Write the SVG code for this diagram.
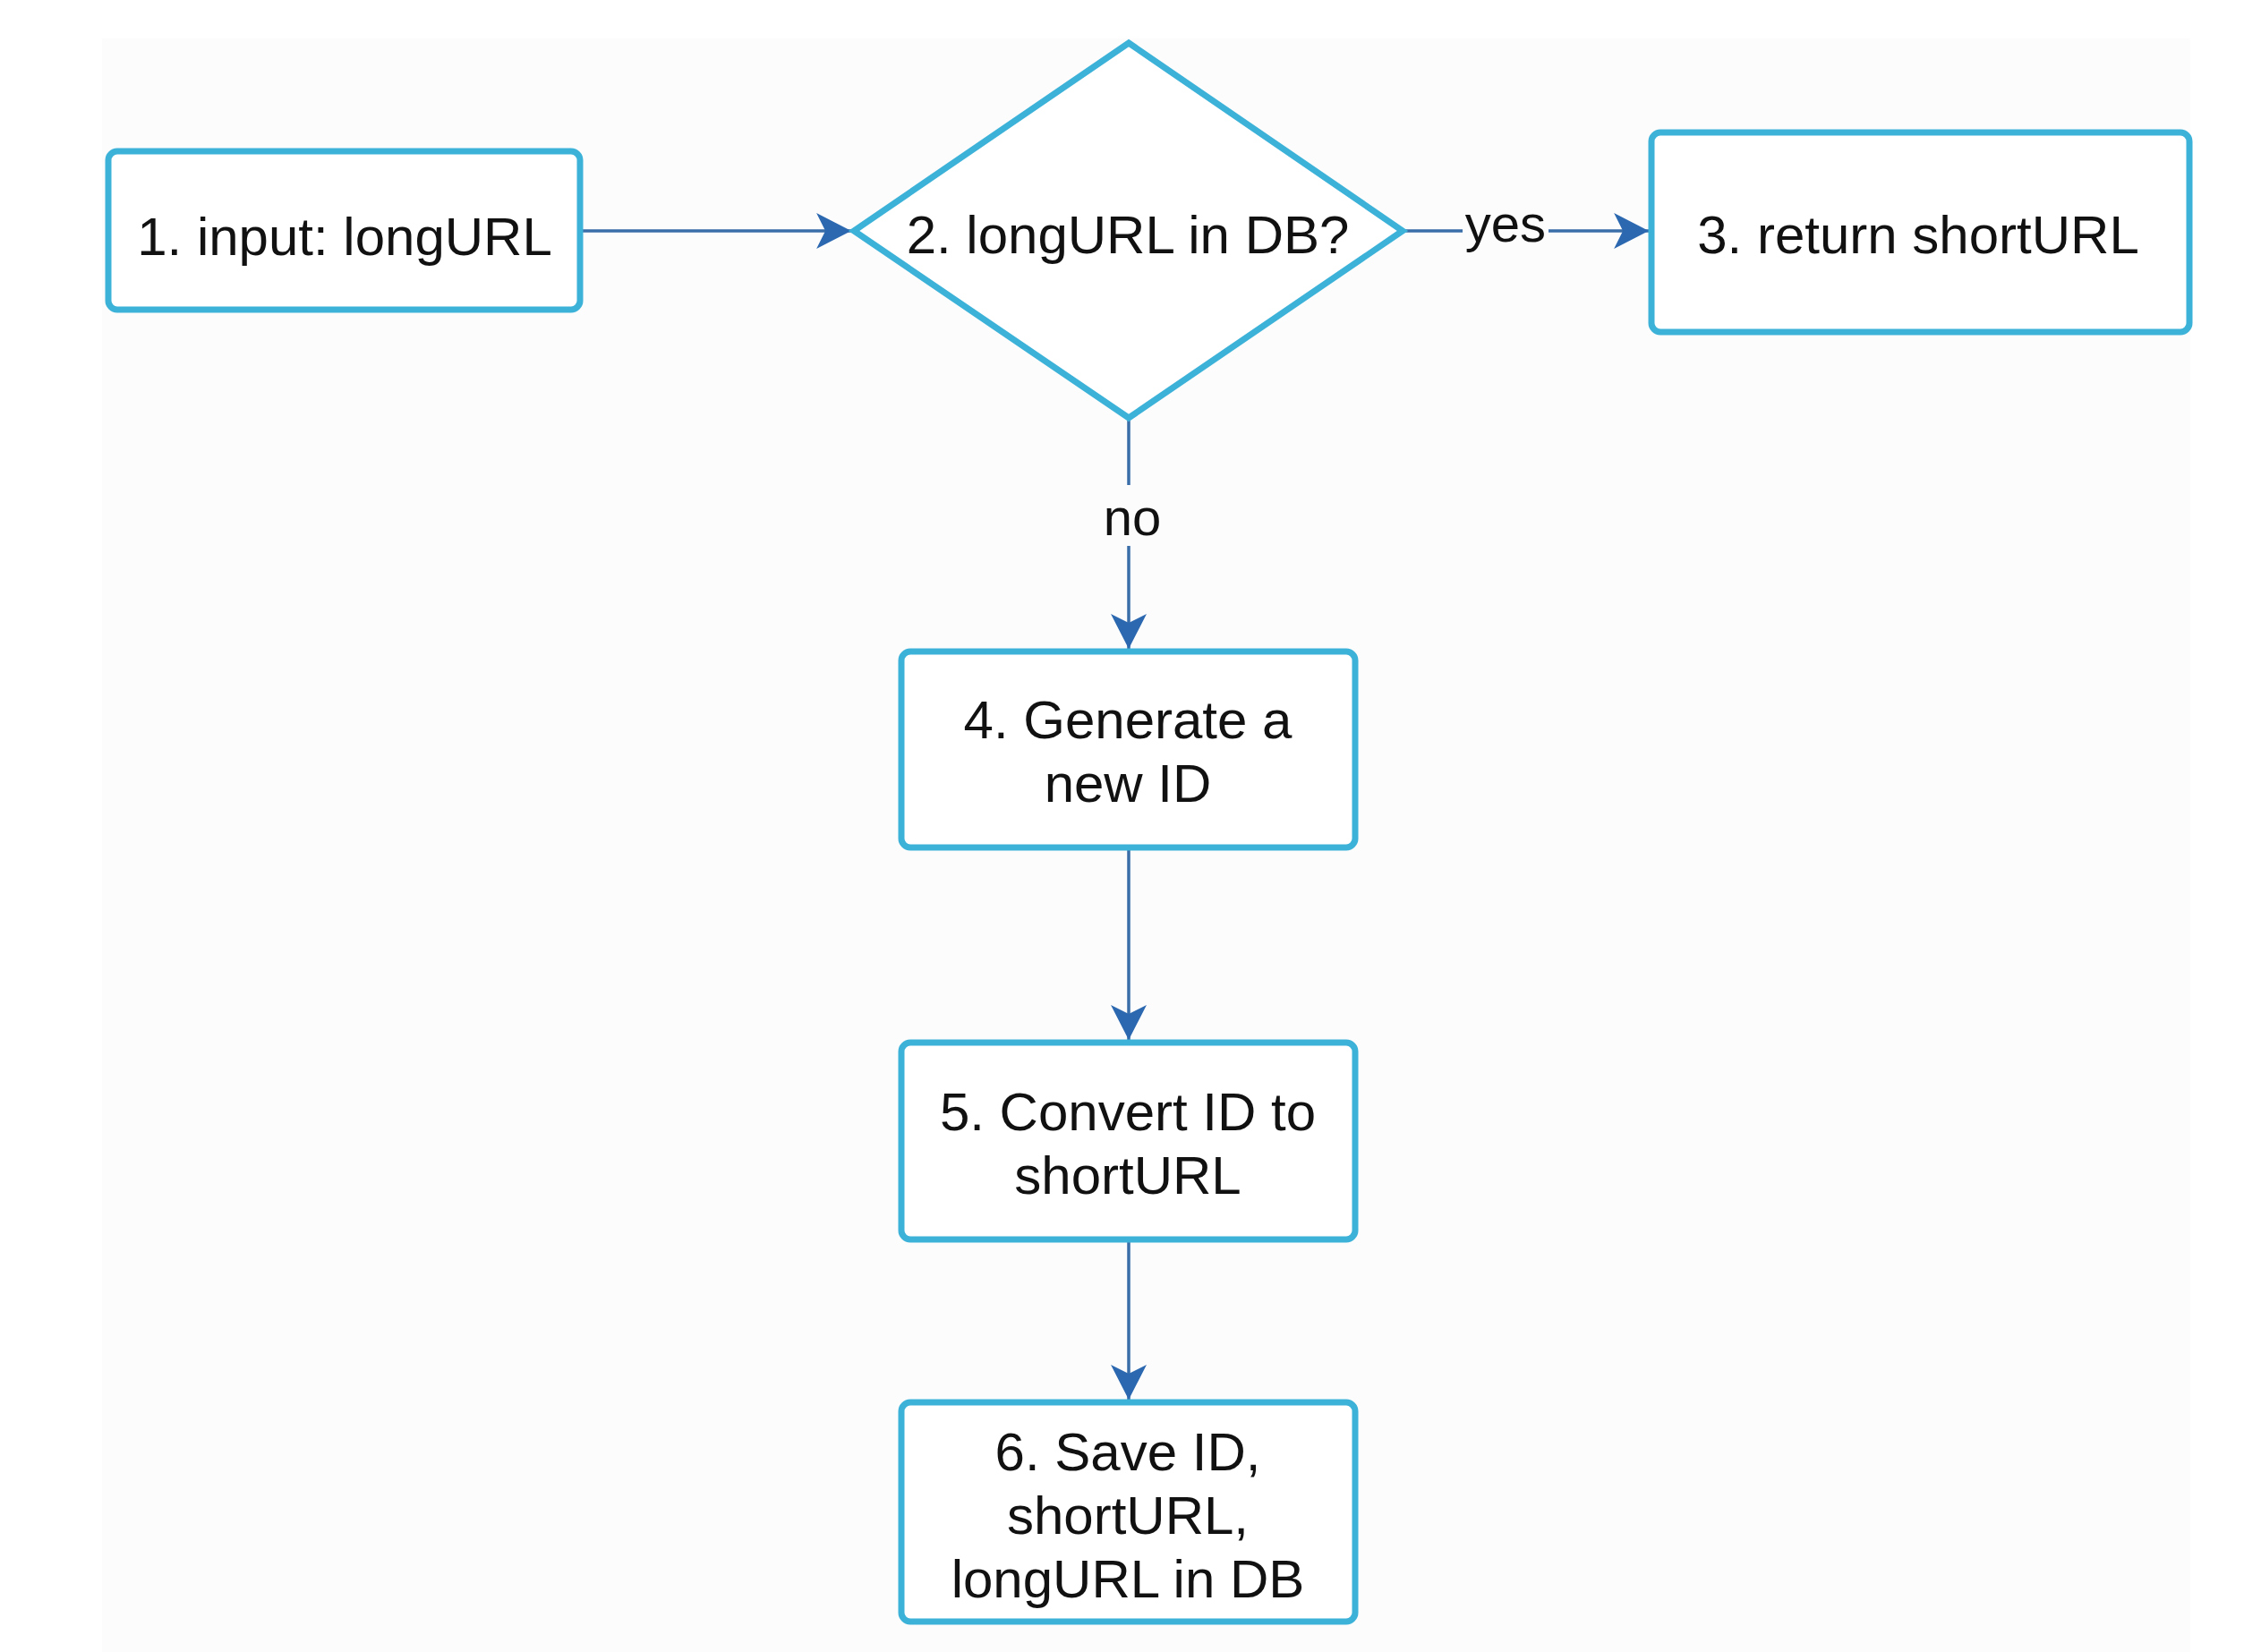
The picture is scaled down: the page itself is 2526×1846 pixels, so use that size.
<svg xmlns="http://www.w3.org/2000/svg" width="2526" height="1846" viewBox="0 0 2526 1846">
  <style>
    .box { fill: #ffffff; stroke: #3db2d9; stroke-width: 7; }
    .lbl { font-family: "Liberation Sans", Arial, sans-serif; font-size: 60px; fill: #111111; text-anchor: middle; }
    .edge-lbl { font-family: "Liberation Sans", Arial, sans-serif; font-size: 58px; fill: #111111; text-anchor: middle; }
    .edge { fill: none; stroke: #3a6ea8; stroke-width: 3.5; marker-end: url(#arrow); }
    .lbl-bg { fill: #fcfcfc; }
  </style>
  <defs>
    <marker id="arrow" markerUnits="userSpaceOnUse" markerWidth="40" markerHeight="40" viewBox="0 0 36 36" refX="35" refY="18" orient="auto">
      <path d="M0,0 L35,18 L0,36 L9,18 Z" fill="#2c68b0"/>
    </marker>
  </defs>

  <!-- page background -->
  <rect x="0" y="0" width="2526" height="1846" fill="#ffffff"/>
  <rect x="114" y="43" width="2333" height="1803" fill="#fcfcfc"/>

  <!-- connectors -->
  <g id="connectors">
    <path class="edge" d="M648,258 L951,258"/>
    <path class="edge" d="M1567,258 L1842,258"/>
    <rect class="lbl-bg" x="1634" y="232" width="96" height="58"/>
    <text class="edge-lbl" x="1682" y="270">yes</text>
    <path class="edge" d="M1261,467 L1261,725"/>
    <rect class="lbl-bg" x="1234" y="542" width="64" height="68"/>
    <text class="edge-lbl" x="1265" y="598">no</text>
    <path class="edge" d="M1261,947 L1261,1162"/>
    <path class="edge" d="M1261,1385 L1261,1564"/>
  </g>

  <g id="node1">
    <rect class="box" x="121" y="169" width="527" height="177" rx="10"/>
    <text class="lbl" x="385" y="285">1. input: longURL</text>
  </g>

  <g id="node2">
    <polygon class="box" points="1261,48 1567,258 1261,467 954,258"/>
    <text class="lbl" x="1260" y="283">2. longURL in DB?</text>
  </g>

  <g id="node3">
    <rect class="box" x="1845" y="148" width="601" height="223" rx="10"/>
    <text class="lbl" x="2143" y="283">3. return shortURL</text>
  </g>

  <g id="node4">
    <rect class="box" x="1007" y="728" width="507" height="219" rx="10"/>
    <text class="lbl" x="1260" y="825">4. Generate a</text>
    <text class="lbl" x="1260" y="896">new ID</text>
  </g>

  <g id="node5">
    <rect class="box" x="1007" y="1165" width="507" height="220" rx="10"/>
    <text class="lbl" x="1260" y="1263">5. Convert ID to</text>
    <text class="lbl" x="1260" y="1334">shortURL</text>
  </g>

  <g id="node6">
    <rect class="box" x="1007" y="1567" width="507" height="245" rx="10"/>
    <text class="lbl" x="1260" y="1643">6. Save ID,</text>
    <text class="lbl" x="1260" y="1714">shortURL,</text>
    <text class="lbl" x="1260" y="1785">longURL in DB</text>
  </g>
</svg>
